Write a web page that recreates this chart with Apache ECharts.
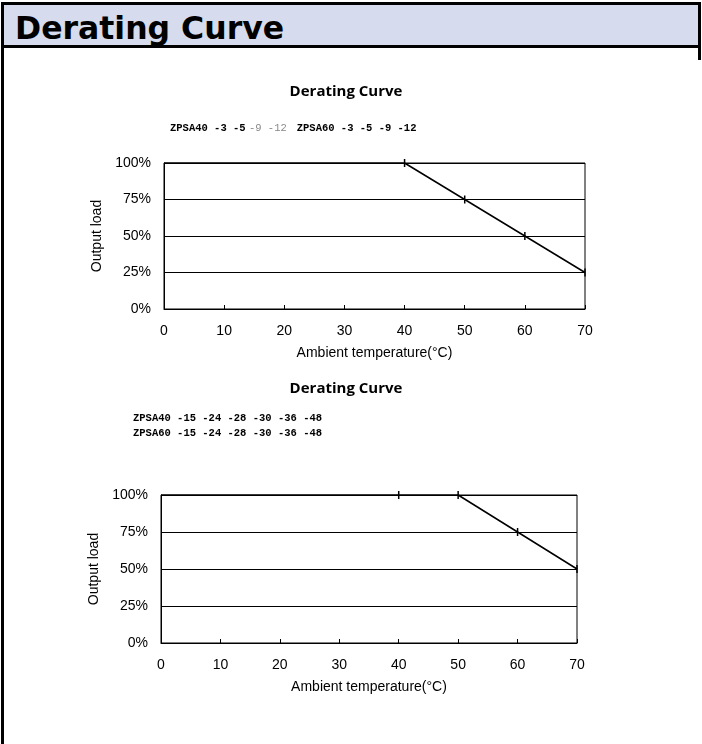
<!DOCTYPE html>
<html>
<head>
<meta charset="utf-8">
<script src="https://cdn.jsdelivr.net/npm/echarts@6/dist/echarts.min.js"></script>
<style>
  html, body { margin: 0; padding: 0; background: #fff; }
  #page { position: relative; width: 702px; height: 744px; overflow: hidden; }
  #header { position: absolute; left: 1px; top: 2px; width: 694px; height: 40px;
            border: 3px solid #000; background: #d6dbee; }
  #header span { position: absolute; left: 11px; top: 6px; line-height: 34px; font-family: "DejaVu Sans", sans-serif;
            font-weight: bold; font-size: 31.5px; color: #000; letter-spacing: 0px; }
  #leftline { position: absolute; left: 1px; top: 45px; width: 3px; height: 700px; background: #000; }
  #rightline { position: absolute; left: 698px; top: 45px; width: 3px; height: 15px; background: #000; }
  #chart { position: absolute; left: 0; top: 0; width: 702px; height: 744px; }
</style>
</head>
<body>
<div id="page">
  <div id="chart"></div>
  <div id="header"><span></span></div>
  <div id="leftline"></div>
  <div id="rightline"></div>
</div>
<script>
const pageTitle = 'Derating Curve';
const chartTitle = 'Derating Curve';
const xName = 'Ambient temperature(°C)';
const yName = 'Output load';
const xTicks = [0, 10, 20, 30, 40, 50, 60, 70];
const yTicks = [0, 25, 50, 75, 100];

const temps1 = [0, 40, 50, 60, 70];
const load1 = [100, 100, 75, 50, 25];
const mark1 = [false, true, true, true, true];

const temps2 = [0, 40, 50, 60, 70];
const load2 = [100, 100, 100, 75, 50];
const mark2 = [false, true, true, true, true];

const models1a = ['ZPSA40', '-3', '-5', '-9', '-12'];
const models1b = ['ZPSA60', '-3', '-5', '-9', '-12'];
const models2a = ['ZPSA40', '-15', '-24', '-28', '-30', '-36', '-48'];
const models2b = ['ZPSA60', '-15', '-24', '-28', '-30', '-36', '-48'];

const chart = echarts.init(document.getElementById('chart'));
const font = '"Liberation Sans", Arial, sans-serif';
const mono = '"Liberation Mono", "Courier New", monospace';

function xAxisCfg(gi) {
  return {
    gridIndex: gi, type: 'value', min: xTicks[0], max: xTicks[xTicks.length - 1], interval: 10,
    name: xName, nameLocation: 'middle', nameGap: 37,
    nameTextStyle: { fontFamily: font, fontSize: 14, color: '#000' },
    axisLine: { lineStyle: { color: '#000', width: 1 } },
    axisTick: { inside: true, length: 4, lineStyle: { color: '#000' } },
    axisLabel: { fontFamily: font, fontSize: 14, color: '#000', margin: 15 },
    splitLine: { show: false }
  };
}
function yAxisCfg(gi) {
  return {
    gridIndex: gi, type: 'value', min: yTicks[0], max: yTicks[yTicks.length - 1], interval: 25,
    name: yName, nameLocation: 'middle', nameGap: 56,
    nameTextStyle: { fontFamily: font, fontSize: 14, color: '#000' },
    axisLine: { show: true, lineStyle: { color: '#000', width: 1 } },
    axisTick: { show: false },
    axisLabel: { fontFamily: font, fontSize: 14, color: '#000', margin: 13, formatter: '{value}%' },
    splitLine: { show: true, lineStyle: { color: '#000', width: 1 } }
  };
}
function seriesCfg(gi, xs, ys, marks) {
  return {
    type: 'line', xAxisIndex: gi, yAxisIndex: gi,
    data: xs.map((x, i) => ({ value: [x, ys[i]], symbol: marks[i] ? 'rect' : 'none' })),
    symbol: 'rect', symbolSize: [1.5, 8], showSymbol: true,
    itemStyle: { color: '#000' },
    lineStyle: { color: '#000', width: 1.5 },
    animation: false, silent: true
  };
}
function subText(arr) {
  return arr.join(' ');
}
const titleStyle = { fontFamily: '"Open Sans", sans-serif', fontWeight: 'bold', fontSize: 15, fill: '#000', align: 'center', verticalAlign: 'middle' };
const monoStyle = { fontFamily: mono, fontWeight: 'bold', fontSize: 10.5, fill: '#000', verticalAlign: 'middle' };

chart.setOption({
  animation: false,
  grid: [
    { left: 164, top: 163, width: 421, height: 146, show: true, borderColor: '#000', borderWidth: 1 },
    { left: 161, top: 495, width: 416, height: 148, show: true, borderColor: '#000', borderWidth: 1 }
  ],
  xAxis: [xAxisCfg(0), xAxisCfg(1)],
  yAxis: [yAxisCfg(0), yAxisCfg(1)],
  series: [seriesCfg(0, temps1, load1, mark1), seriesCfg(1, temps2, load2, mark2)],
  graphic: [
    { type: 'text', x: 346, y: 92, style: Object.assign({ text: chartTitle }, titleStyle) },
    { type: 'text', x: 170, y: 128, style: {
        text: '{b|' + models1a.slice(0, 3).join(' ') + '} {g|' + models1a.slice(3).join(' ') + '}   {b|' + subText(models1b) + '}',
        rich: {
          b: { fontFamily: mono, fontWeight: 'bold', fontSize: 10.5, fill: '#000' },
          g: { fontFamily: mono, fontSize: 10.5, fill: '#888' }
        },
        verticalAlign: 'middle' } },
    { type: 'text', x: 346, y: 389, style: Object.assign({ text: chartTitle }, titleStyle) },
    { type: 'text', x: 133, y: 418, style: Object.assign({ text: subText(models2a) }, monoStyle) },
    { type: 'text', x: 133, y: 433, style: Object.assign({ text: subText(models2b) }, monoStyle) }
  ]
});
document.querySelector('#header span').textContent = pageTitle;
</script>
</body>
</html>
